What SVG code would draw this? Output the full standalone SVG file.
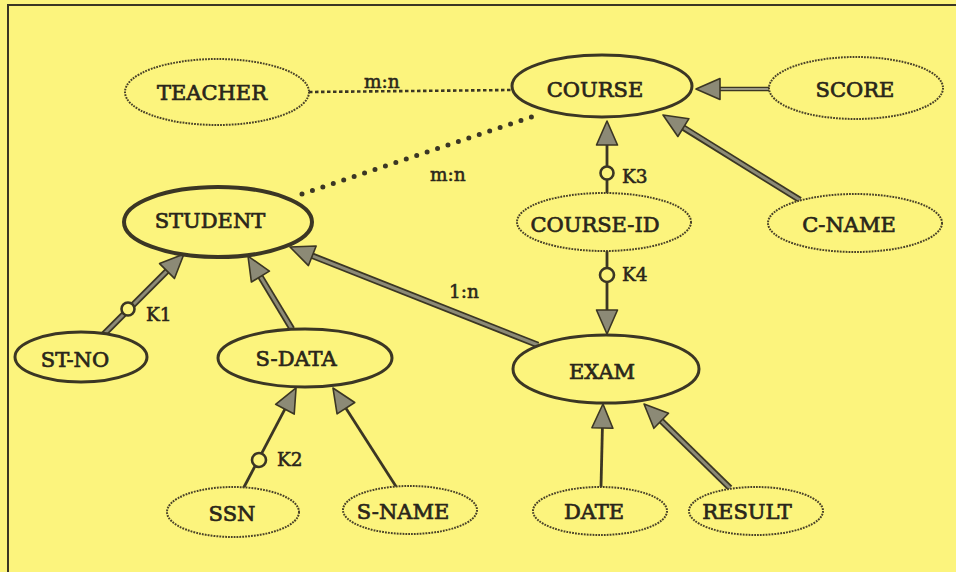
<svg xmlns="http://www.w3.org/2000/svg" width="956" height="572" viewBox="0 0 956 572">
  <style>
    .bg { fill: #fcf47d; }
    .frame { fill: none; stroke: #3b3624; stroke-width: 2; }
    .solid { fill: #fcf47d; stroke: #3b3624; stroke-width: 3; }
    .solid-heavy { fill: #fcf47d; stroke: #3b3624; stroke-width: 4; }
    .dashed { fill: #fcf47d; stroke: #4a4228; stroke-width: 2; stroke-dasharray: 1.8 1.1; }
    .name { font-family: "DejaVu Serif", "Liberation Serif", serif; font-size: 21px; fill: #2a261a; text-anchor: middle; stroke: #2a261a; stroke-width: 0.7; }
    .tag { font-family: "DejaVu Serif", "Liberation Serif", serif; font-size: 18.5px; fill: #2a261a; stroke: #2a261a; stroke-width: 0.55; }
    .thick-edge { fill: none; stroke: #3b3624; stroke-width: 6.5; }
    .thick-core { fill: none; stroke: #8c8a76; stroke-width: 3; }
    .thin { fill: none; stroke: #3b3624; stroke-width: 2.8; }
    .double-edge { fill: none; stroke: #3b3624; stroke-width: 4.5; }
    .double-core { fill: none; stroke: #9a9884; stroke-width: 1.8; }
    .dots-small { fill: none; stroke: #3b3624; stroke-width: 2.6; stroke-dasharray: 3.5 2.5; }
    .dots-big { fill: none; stroke: #3b3624; stroke-width: 5; stroke-linecap: round; stroke-dasharray: 0 11; }
    .key { fill: #fcf47d; stroke: #3b3624; stroke-width: 2.6; }
  </style>
  <defs>
    <!-- gray filled arrowhead; reference point at the base, tip 24px ahead -->
    <marker id="head" markerUnits="userSpaceOnUse" markerWidth="30" markerHeight="30" refX="0" refY="0" viewBox="-2 -13 30 26" orient="auto" overflow="visible">
      <path d="M0,-10.5 L24,0 L0,10.5 Z" fill="#8c8a76" stroke="#3b3624" stroke-width="1.6" stroke-linejoin="round"/>
    </marker>
  </defs>

  <rect class="bg" x="0" y="0" width="956" height="572"/>
  <path class="frame" d="M8,572 V5 H956"/>

  <g id="connectors">
    <!-- relationships -->
    <line class="dots-small" x1="309" y1="92" x2="512" y2="90"/>
    <line class="dots-big" x1="302" y1="194" x2="540" y2="114"/>

    <!-- SCORE -> COURSE -->
    <line class="double-edge" x1="769" y1="89" x2="720" y2="89"/>
    <line class="double-core" x1="769" y1="89" x2="720" y2="89" marker-end="url(#head)"/>

    <!-- C-NAME -> COURSE -->
    <line class="thick-edge" x1="800" y1="200" x2="683" y2="127.6"/>
    <line class="thick-core" x1="800" y1="200" x2="683.4" y2="127.6" marker-end="url(#head)"/>

    <!-- COURSE-ID -> COURSE (K3) -->
    <line class="thin" x1="607" y1="194" x2="607" y2="145" marker-end="url(#head)"/>
    <!-- COURSE-ID -> EXAM (K4) -->
    <line class="thin" x1="607" y1="251" x2="607" y2="310" marker-end="url(#head)"/>

    <!-- EXAM -> STUDENT -->
    <line class="thick-edge" x1="538" y1="345" x2="312.3" y2="255.8"/>
    <line class="thick-core" x1="538" y1="345" x2="312.3" y2="255.8" marker-end="url(#head)"/>

    <!-- ST-NO -> STUDENT (K1) -->
    <line class="thick-edge" x1="100" y1="338" x2="167" y2="271"/>
    <line class="thick-core" x1="100" y1="338" x2="167" y2="271" marker-end="url(#head)"/>

    <!-- S-DATA -> STUDENT -->
    <line class="thick-edge" x1="292" y1="329" x2="260.4" y2="276.6"/>
    <line class="thick-core" x1="292" y1="329" x2="260.4" y2="276.6" marker-end="url(#head)"/>

    <!-- SSN -> S-DATA (K2) -->
    <line class="thin" x1="243" y1="489" x2="284.9" y2="409.2" marker-end="url(#head)"/>
    <!-- S-NAME -> S-DATA -->
    <line class="thin" x1="397" y1="488" x2="345.9" y2="408.2" marker-end="url(#head)"/>

    <!-- DATE -> EXAM -->
    <line class="thin" x1="601" y1="487" x2="602.4" y2="428" marker-end="url(#head)"/>
    <!-- RESULT -> EXAM -->
    <line class="thick-edge" x1="730" y1="488" x2="661.2" y2="420.8"/>
    <line class="thick-core" x1="730" y1="488" x2="661.2" y2="420.8" marker-end="url(#head)"/>

    <!-- key markers -->
    <circle class="key" cx="128" cy="309" r="6.5"/>
    <circle class="key" cx="259" cy="460" r="7"/>
    <circle class="key" cx="607" cy="173" r="6.5"/>
    <circle class="key" cx="607" cy="275" r="7"/>

    <!-- labels -->
    <text class="tag" x="364" y="88">m:n</text>
    <text class="tag" x="430" y="181">m:n</text>
    <text class="tag" x="449" y="298">1:n</text>
    <text class="tag" x="146" y="321">K1</text>
    <text class="tag" x="277" y="466">K2</text>
    <text class="tag" x="622" y="183">K3</text>
    <text class="tag" x="622" y="281">K4</text>
  </g>

  <g id="teacher">
    <ellipse class="dashed" cx="217" cy="92" rx="92" ry="33"/>
    <text class="name" x="212" y="100">TEACHER</text>
  </g>
  <g id="course">
    <ellipse class="solid" cx="602" cy="86" rx="90" ry="31"/>
    <text class="name" x="595" y="97">COURSE</text>
  </g>
  <g id="score">
    <ellipse class="dashed" cx="856" cy="88" rx="87" ry="31"/>
    <text class="name" x="855" y="97">SCORE</text>
  </g>
  <g id="student">
    <ellipse class="solid-heavy" cx="218" cy="222" rx="94" ry="35"/>
    <text class="name" x="210" y="228">STUDENT</text>
  </g>
  <g id="course-id">
    <ellipse class="dashed" cx="604" cy="222" rx="87" ry="29"/>
    <text class="name" x="595" y="232">COURSE-ID</text>
  </g>
  <g id="c-name">
    <ellipse class="dashed" cx="855" cy="223" rx="87" ry="29"/>
    <text class="name" x="849" y="232">C-NAME</text>
  </g>
  <g id="st-no">
    <ellipse class="solid" cx="81" cy="357" rx="66" ry="25"/>
    <text class="name" x="75" y="367">ST-NO</text>
  </g>
  <g id="s-data">
    <ellipse class="solid" cx="305" cy="358" rx="87" ry="29"/>
    <text class="name" x="296" y="366">S-DATA</text>
  </g>
  <g id="exam">
    <ellipse class="solid" cx="606" cy="369" rx="93" ry="34"/>
    <text class="name" x="602" y="379">EXAM</text>
  </g>
  <g id="ssn">
    <ellipse class="dashed" cx="233" cy="512" rx="66" ry="25"/>
    <text class="name" x="232" y="521">SSN</text>
  </g>
  <g id="s-name">
    <ellipse class="dashed" cx="410" cy="510" rx="67" ry="24"/>
    <text class="name" x="403" y="519">S-NAME</text>
  </g>
  <g id="date">
    <ellipse class="dashed" cx="600" cy="511" rx="67" ry="24"/>
    <text class="name" x="594" y="519">DATE</text>
  </g>
  <g id="result">
    <ellipse class="dashed" cx="756" cy="511" rx="67" ry="24"/>
    <text class="name" x="747" y="519">RESULT</text>
  </g>
</svg>
